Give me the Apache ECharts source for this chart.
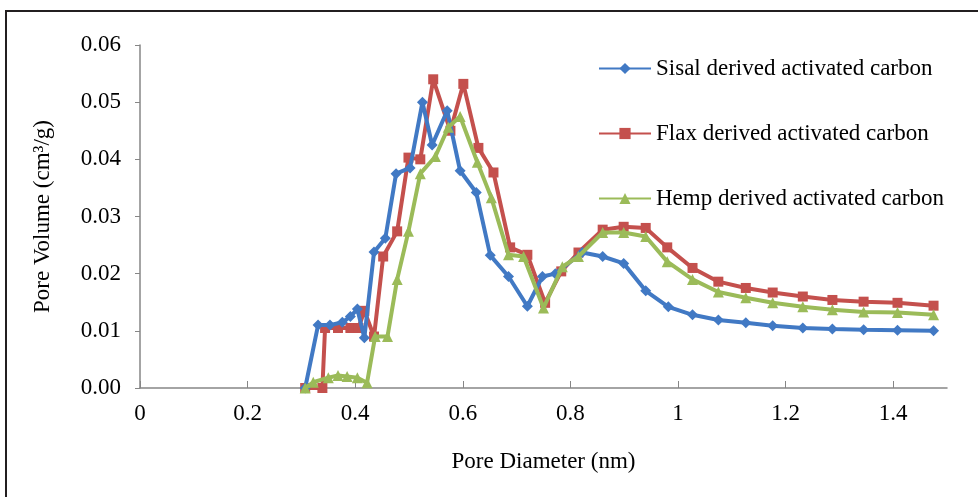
<!DOCTYPE html>
<html>
<head>
<meta charset="utf-8">
<script src="https://cdn.jsdelivr.net/npm/echarts@6/dist/echarts.min.js"></script>
<style>
  html, body { margin: 0; padding: 0; background: #ffffff; }
  #chart { width: 978px; height: 497px; }
</style>
</head>
<body>
<div id="chart"></div>
<script>
// pore diameter (nm) and pore volume (cm3/g)
const sisalX = [0.307, 0.331, 0.353, 0.376, 0.391, 0.404, 0.417, 0.435, 0.456, 0.476, 0.502, 0.525, 0.543, 0.571, 0.595, 0.625, 0.651, 0.685, 0.720, 0.748, 0.772, 0.822, 0.860, 0.899, 0.940, 0.982, 1.027, 1.075, 1.126, 1.176, 1.232, 1.287, 1.345, 1.408, 1.475];
const sisalY = [0, 0.011, 0.011, 0.0115, 0.0125, 0.0138, 0.0088, 0.0238, 0.0262, 0.0375, 0.0385, 0.0500, 0.0425, 0.0485, 0.0380, 0.0342, 0.0232, 0.0195, 0.0143, 0.0195, 0.0200, 0.0237, 0.0230, 0.0218, 0.0170, 0.0142, 0.0128, 0.0119, 0.0114, 0.0109, 0.0105, 0.0103, 0.0102, 0.0101, 0.0100];

const flaxX = [0.307, 0.339, 0.344, 0.368, 0.391, 0.406, 0.417, 0.435, 0.452, 0.478, 0.499, 0.521, 0.545, 0.577, 0.601, 0.629, 0.657, 0.688, 0.720, 0.753, 0.783, 0.815, 0.860, 0.899, 0.940, 0.980, 1.027, 1.075, 1.126, 1.176, 1.232, 1.287, 1.345, 1.408, 1.475];
const flaxY = [0, 0, 0.0105, 0.0105, 0.0105, 0.0105, 0.0135, 0.0090, 0.0230, 0.0274, 0.0403, 0.0400, 0.0540, 0.0450, 0.0532, 0.0420, 0.0377, 0.0246, 0.0233, 0.0149, 0.0204, 0.0237, 0.0277, 0.0282, 0.0280, 0.0246, 0.0210, 0.0186, 0.0175, 0.0167, 0.0160, 0.0154, 0.0151, 0.0149, 0.0144];

const hempX = [0.307, 0.322, 0.350, 0.368, 0.385, 0.404, 0.422, 0.437, 0.460, 0.478, 0.499, 0.521, 0.549, 0.573, 0.595, 0.627, 0.653, 0.685, 0.713, 0.750, 0.785, 0.815, 0.860, 0.899, 0.940, 0.980, 1.027, 1.075, 1.126, 1.176, 1.232, 1.287, 1.345, 1.408, 1.475];
const hempY = [0, 0.0010, 0.0018, 0.0022, 0.0020, 0.0018, 0.0009, 0.0090, 0.0090, 0.0190, 0.0274, 0.0375, 0.0405, 0.0456, 0.0475, 0.0395, 0.0333, 0.0233, 0.0230, 0.0140, 0.0212, 0.0230, 0.0272, 0.0272, 0.0265, 0.0221, 0.0190, 0.0168, 0.0158, 0.0149, 0.0142, 0.0137, 0.0133, 0.0132, 0.0128];

const seriesNames = ['Sisal derived activated carbon', 'Flax derived activated carbon', 'Hemp derived activated carbon'];
const colors = ['#4179c4', '#c4504d', '#9bbb59'];

function pairs(xs, ys) {
    return xs.map((x, i) => [x, ys[i]]);
}

const font = 'Liberation Serif, Times New Roman, serif';
const fs = 23;
const myChart = echarts.init(document.getElementById('chart'));

const option = {
    backgroundColor: '#ffffff',
    animation: false,
    color: colors,
    graphic: [{
        type: 'rect',
        shape: { x: 6, y: 11, width: 1000, height: 520 },
        style: { fill: 'none', stroke: '#231f20', lineWidth: 2 },
        silent: true
    }],
    grid: {
        left: 140,
        right: 31,
        top: 45,
        bottom: 109
    },
    legend: {
        orient: 'vertical',
        left: 593,
        top: 52,
        itemWidth: 52,
        itemHeight: 14,
        itemGap: 42,
        textStyle: { fontFamily: font, fontSize: fs, color: '#000' },
        data: seriesNames
    },
    xAxis: {
        type: 'value',
        min: 0,
        max: 1.5,
        interval: 0.2,
        name: 'Pore Diameter (nm)',
        nameLocation: 'middle',
        nameGap: 62,
        nameTextStyle: { fontFamily: font, fontSize: fs, color: '#000' },
        axisLine: { lineStyle: { color: '#868686', width: 1.5 } },
        axisTick: { show: true, inside: true, length: 7, lineStyle: { color: '#868686' } },
        axisLabel: {
            showMaxLabel: false,
            margin: 14,
            fontFamily: font,
            fontSize: fs,
            color: '#000'
        },
        splitLine: { show: false }
    },
    yAxis: {
        type: 'value',
        min: 0,
        max: 0.06,
        interval: 0.01,
        name: 'Pore Volume (cm³/g)',
        nameLocation: 'middle',
        nameGap: 86,
        nameTextStyle: { fontFamily: font, fontSize: fs, color: '#000' },
        axisLine: { show: true, lineStyle: { color: '#868686', width: 1.5 } },
        axisTick: { show: true, length: 5, lineStyle: { color: '#868686' } },
        axisLabel: {
            margin: 19,
            fontFamily: font,
            fontSize: fs,
            color: '#000',
            formatter: v => v.toFixed(2)
        },
        splitLine: { show: false }
    },
    series: [
        {
            name: seriesNames[0],
            type: 'line',
            data: pairs(sisalX, sisalY),
            symbol: 'diamond',
            symbolSize: 11,
            lineStyle: { width: 4 },
            z: 3
        },
        {
            name: seriesNames[1],
            type: 'line',
            data: pairs(flaxX, flaxY),
            symbol: 'rect',
            symbolSize: 10,
            lineStyle: { width: 4 },
            z: 2
        },
        {
            name: seriesNames[2],
            type: 'line',
            data: pairs(hempX, hempY),
            symbol: 'triangle',
            symbolSize: 11,
            lineStyle: { width: 4 },
            z: 4
        }
    ]
};

myChart.setOption(option);
window.addEventListener('resize', () => myChart.resize());
</script>
</body>
</html>
